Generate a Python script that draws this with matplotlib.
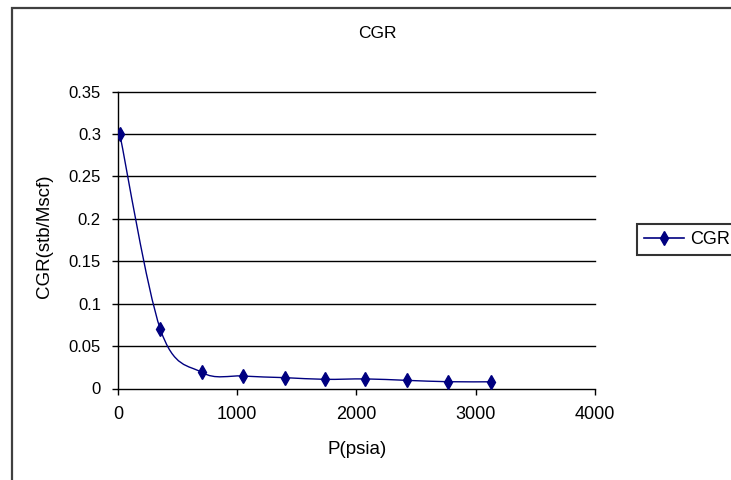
import matplotlib
matplotlib.use("Agg")
import numpy as np
from matplotlib import pyplot as plt
from matplotlib.path import Path
from matplotlib.patches import PathPatch, Rectangle
from matplotlib.lines import Line2D

# pressure steps and condensate-gas ratio
pressure = [14.7, 355, 703, 1046, 1398, 1736, 2075, 2422, 2771, 3129]
cgr = [0.3, 0.07, 0.019, 0.0147, 0.0128, 0.0108, 0.0113, 0.0096, 0.008, 0.0079]

x_ticks = [0, 1000, 2000, 3000, 4000]
y_ticks = [0, 0.05, 0.1, 0.15, 0.2, 0.25, 0.3, 0.35]
y_tick_labels = ["0", "0.05", "0.1", "0.15", "0.2", "0.25", "0.3", "0.35"]

navy = "#000080"
plt.rcParams["font.family"] = ["Liberation Sans", "DejaVu Sans"]


def smooth_path(xs, ys):
    # bezier segments through every point, the way spreadsheet "smoothed lines" do
    pts = np.column_stack([xs, ys])
    n = len(pts)
    verts = [pts[0]]
    codes = [Path.MOVETO]
    for i in range(n - 1):
        p_prev = pts[i - 1] if i > 0 else pts[i]
        p_next2 = pts[i + 2] if i + 2 < n else pts[i + 1]
        c1 = pts[i] + (pts[i + 1] - p_prev) / 6
        c2 = pts[i + 1] - (p_next2 - pts[i]) / 6
        verts += [c1, c2, pts[i + 1]]
        codes += [Path.CURVE4] * 3
    return Path(verts, codes)


fig = plt.figure(figsize=(7.31, 4.80), dpi=100)
fig.patch.set_facecolor("white")

# outer chart-area border
fig.patches.append(Rectangle((11.7 / 731, -0.2), 1.2, 1.2 - 7.5 / 480,
                             transform=fig.transFigure, fill=False,
                             edgecolor="#404040", linewidth=1.6))

ax = fig.add_axes([118 / 731, 1 - 388.5 / 480, 476.7 / 731, 297 / 480])
ax.set_xlim(0, 4000)
ax.set_ylim(0, 0.35)

for yv in y_ticks[1:]:
    ax.axhline(yv, color="black", linewidth=1.0, zorder=1, clip_on=False)

ax.add_patch(PathPatch(smooth_path(pressure, cgr), fill=False,
                       edgecolor=navy, linewidth=1.0, zorder=3))
ax.plot(pressure, cgr, linestyle="none", marker="d", markersize=7,
        color=navy, markeredgecolor=navy, zorder=4)

for side in ["top", "right"]:
    ax.spines[side].set_visible(False)
for side in ["left", "bottom"]:
    ax.spines[side].set_color("black")
    ax.spines[side].set_linewidth(1.0)

ax.set_xticks(x_ticks)
ax.set_xticklabels([str(v) for v in x_ticks], fontsize=13)
ax.set_yticks(y_ticks)
ax.set_yticklabels(y_tick_labels, fontsize=12)
ax.tick_params(axis="x", direction="out", length=4.3, width=1.0, pad=8.0)
ax.tick_params(axis="y", direction="out", length=4.3, width=1.0, pad=8.0)

fig.text(377 / 731, 1 - 33 / 480, "CGR", ha="center", va="center", fontsize=12.5)
fig.text(356.7 / 731, 1 - 450 / 480, "P(psia)", ha="center", va="center", fontsize=13.5)
fig.text(45 / 731, 1 - 236 / 480, "CGR(stb/Mscf)", ha="center", va="center",
         rotation=90, fontsize=13.5)

handle = Line2D([], [], color=navy, linewidth=1.2, marker="d", markersize=7)
leg = fig.legend([handle], ["CGR"], loc="upper left",
                 bbox_to_anchor=(636.7 / 731, 1 - 224 / 480),
                 bbox_transform=fig.transFigure, fontsize=13,
                 fancybox=False, frameon=True, borderpad=0.4,
                 handlelength=2.2, handletextpad=0.35, borderaxespad=0)
leg.get_frame().set_edgecolor("black")
leg.get_frame().set_linewidth(1.5)

fig.savefig("out.png", dpi=100, facecolor="white")
